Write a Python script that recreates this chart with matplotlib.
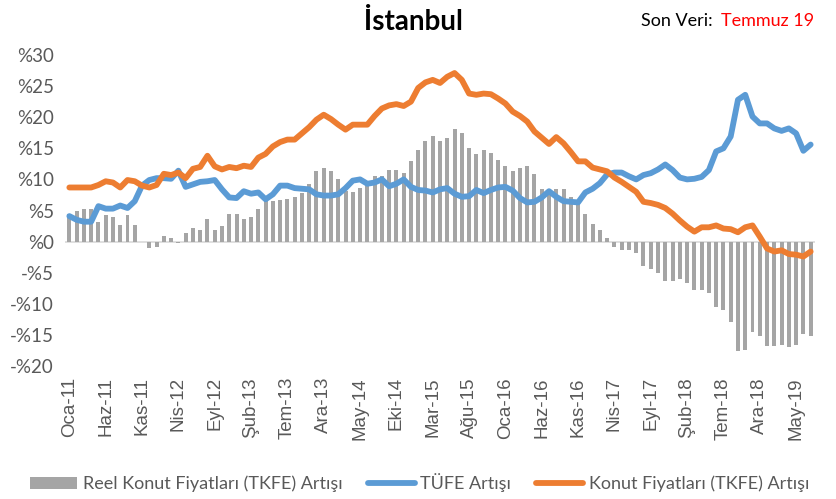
import numpy as np
import matplotlib.pyplot as plt

# monthly data, Oca-11 .. Tem-19
reel_konut = [4.5, 5.0, 5.3, 5.3, 3.2, 4.2, 4.0, 2.7, 4.2, 2.7,
              -0.1, -1.1, -0.8, 0.9, 0.6, -0.2, 1.4, 2.2, 1.9, 3.7,
              1.9, 2.5, 4.5, 4.5, 3.7, 4.0, 5.3, 6.5, 6.6, 6.7,
              6.9, 7.1, 7.8, 9.3, 11.3, 11.8, 11.3, 10.0, 8.2, 8.0,
              8.6, 9.1, 10.5, 10.6, 11.5, 11.5, 11.0, 12.9, 14.8, 16.2,
              16.9, 16.2, 16.6, 18.1, 17.4, 15.1, 14.1, 14.8, 14.3, 13.1,
              12.1, 11.3, 11.8, 12.1, 10.8, 8.5, 8.5, 8.5, 8.5, 7.2,
              6.7, 4.4, 2.9, 1.9, 0.6, -0.8, -1.3, -1.3, -1.9, -3.9,
              -4.4, -5.1, -6.4, -6.4, -6.0, -6.7, -7.8, -7.8, -8.2, -10.5,
              -11.0, -12.9, -17.6, -17.4, -14.6, -15.2, -16.8, -16.8, -16.7, -17.0,
              -16.7, -14.8, -15.1]

tufe = [4.1, 3.5, 3.2, 3.2, 5.7, 5.3, 5.3, 5.8, 5.4, 6.5,
        9.0, 9.9, 10.2, 10.2, 10.1, 11.4, 8.8, 9.2, 9.6, 9.7,
        9.9, 8.4, 7.1, 7.0, 8.1, 7.7, 7.9, 6.8, 7.6, 9.0,
        9.0, 8.6, 8.5, 8.4, 7.6, 7.4, 7.4, 7.6, 8.6, 9.8,
        10.0, 9.3, 9.5, 10.0, 8.9, 9.3, 10.0, 8.8, 8.3, 8.2,
        7.9, 8.4, 8.6, 7.7, 7.2, 7.3, 8.3, 7.8, 8.3, 8.7,
        8.8, 8.2, 7.0, 6.3, 6.4, 7.1, 8.1, 7.2, 6.5, 6.4,
        6.3, 7.9, 8.5, 9.4, 10.8, 11.1, 11.1, 10.5, 10.0, 10.7,
        11.0, 11.6, 12.4, 11.5, 10.3, 10.0, 10.1, 10.4, 11.5, 14.5,
        15.0, 16.9, 22.8, 23.6, 20.1, 19.0, 19.0, 18.2, 17.8, 18.2,
        17.4, 14.6, 15.6]

konut = [8.7, 8.7, 8.7, 8.7, 9.1, 9.7, 9.5, 8.7, 9.9, 9.7,
         9.0, 8.7, 9.1, 10.9, 10.7, 11.1, 10.2, 11.7, 12.0, 13.8,
         12.1, 11.6, 12.0, 11.8, 12.2, 12.0, 13.5, 14.1, 15.3, 16.0,
         16.4, 16.4, 17.4, 18.4, 19.6, 20.4, 19.7, 18.8, 18.0, 18.8,
         18.8, 18.8, 20.2, 21.4, 21.9, 22.1, 21.8, 22.5, 24.7, 25.6,
         26.0, 25.5, 26.5, 27.1, 26.0, 23.8, 23.6, 23.8, 23.7, 23.0,
         22.2, 20.9, 20.2, 19.3, 17.7, 16.7, 15.7, 16.8, 15.8, 14.4,
         12.9, 12.9, 11.9, 11.6, 11.3, 10.3, 9.6, 8.8, 8.0, 6.4,
         6.2, 5.9, 5.4, 4.5, 3.4, 2.4, 1.6, 2.3, 2.3, 2.6,
         2.1, 2.0, 1.5, 2.3, 2.6, 0.8, -1.1, -1.6, -1.4, -2.0,
         -2.1, -2.4, -1.6]

tick_labels = ['Oca-11', 'Haz-11', 'Kas-11', 'Nis-12', 'Eyl-12', 'Şub-13', 'Tem-13',
               'Ara-13', 'May-14', 'Eki-14', 'Mar-15', 'Ağu-15', 'Oca-16', 'Haz-16',
               'Kas-16', 'Nis-17', 'Eyl-17', 'Şub-18', 'Tem-18', 'Ara-18', 'May-19']
y_ticks = [30, 25, 20, 15, 10, 5, 0, -5, -10, -15, -20]

narrow = ['Lato', 'DejaVu Sans']
grey_txt = '#595959'

x = np.arange(len(tufe))

fig = plt.figure(figsize=(8.36, 4.99), dpi=100)
ax = fig.add_axes([65 / 836, 133 / 499, 750 / 836, 311 / 499])

bars = ax.bar(x, reel_konut, width=0.55, color='#A5A5A5', zorder=2)
l1, = ax.plot(x, tufe, color='#5B9BD5', lw=4.2, solid_capstyle='round', zorder=3)
l2, = ax.plot(x, konut, color='#ED7D31', lw=4.2, solid_capstyle='round', zorder=4)

ax.axhline(0, color='#D9D9D9', lw=1.2, zorder=1)
ax.set_xlim(-0.6, len(x) - 0.4)
ax.set_ylim(-20, 30)

for s in ax.spines.values():
    s.set_visible(False)

ax.set_yticks(y_ticks)
ax.set_yticklabels([('-%' if v < 0 else '%') + str(abs(v)) for v in y_ticks],
                   family=narrow, fontsize=13.5, color=grey_txt)
ax.set_xticks(x[::5])
ax.set_xticklabels(tick_labels, rotation=90, family='Liberation Sans', fontsize=13.5, color=grey_txt)
ax.tick_params(length=0, pad=8)
ax.tick_params(axis='x', pad=8)

fig.text(0.494, 0.955, 'İstanbul', ha='center', va='center', family=narrow,
         fontsize=20, fontweight='bold', color='black')
fig.text(0.852, 0.958, 'Son Veri:', ha='right', va='center', family=narrow, fontsize=13, color='black')
fig.text(0.862, 0.958, 'Temmuz 19', ha='left', va='center', family=narrow, fontsize=13, color='#FF0000')

leg = fig.legend([bars, l1, l2],
                 ['Reel Konut Fiyatları (TKFE) Artışı', 'TÜFE Artışı', 'Konut Fiyatları (TKFE) Artışı'],
                 loc='center', bbox_to_anchor=(0.502, 0.032), ncol=3, frameon=False,
                 prop={'family': narrow, 'size': 13}, handlelength=2.6, handletextpad=0.3,
                 columnspacing=1.4)
for t in leg.get_texts():
    t.set_color(grey_txt)

fig.savefig('out.png', dpi=100)
